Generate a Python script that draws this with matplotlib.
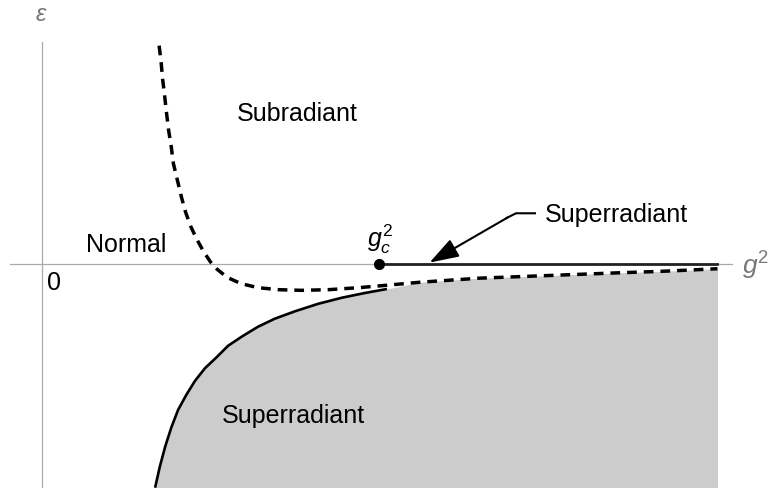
import numpy as np
import matplotlib.pyplot as plt

plt.rcParams['font.family'] = ['Liberation Sans', 'DejaVu Sans']
plt.rcParams['mathtext.fontset'] = 'custom'
plt.rcParams['mathtext.rm'] = 'Liberation Sans'
plt.rcParams['mathtext.it'] = 'Liberation Sans:italic'

# subradiant boundary (dashed)
g2_sub = np.array([1.74, 1.77, 1.79, 1.82, 1.85, 1.88, 1.92, 1.95, 2.01, 2.07,
                   2.13, 2.21, 2.30, 2.40, 2.50, 2.60, 2.75, 2.95, 3.20, 3.50,
                   3.85, 4.25, 4.70, 5.16, 5.60, 6.04, 6.48, 7.00, 7.52, 8.04,
                   8.55, 9.14, 9.59, 10.0])
eps_sub = np.array([3.23, 2.98, 2.75, 2.50, 2.23, 1.98, 1.73, 1.49, 1.24, 0.99,
                    0.77, 0.55, 0.36, 0.18, 0.03, -0.08, -0.20, -0.29, -0.35, -0.38,
                    -0.39, -0.38, -0.35, -0.31, -0.27, -0.24, -0.21, -0.19, -0.17, -0.15,
                    -0.13, -0.11, -0.09, -0.07])

# superradiant boundary (solid)
g2_sup = np.array([1.68, 1.75, 1.83, 1.92, 2.02, 2.14, 2.27, 2.42, 2.59, 2.76,
                   2.97, 3.20, 3.45, 3.75, 4.09, 4.44, 4.78, 5.11])
eps_sup = np.array([-3.31, -3.00, -2.70, -2.42, -2.16, -1.94, -1.73, -1.54, -1.38, -1.21,
                    -1.07, -0.93, -0.81, -0.70, -0.59, -0.50, -0.43, -0.37])

g2_c = 5.0
g2_max = 10.0

fig = plt.figure(figsize=(7.74, 4.88), dpi=100)
ax = fig.add_axes([0, 0, 1, 1])
ax.set_xlim(-0.614, 10.836)
ax.set_ylim(-3.314, 3.905)
ax.axis('off')

# axes
ax.plot([0, 0], [-3.314, 3.28], color='#aaaaaa', lw=0.9)
ax.plot([-0.46, 10.21], [0, 0], color='#aaaaaa', lw=0.9)

# shaded superradiant region: solid curve, then the dashed curve past its end
tail = g2_sub > g2_sup[-1] + 0.2
bx = np.concatenate([g2_sup, g2_sub[tail]])
by = np.concatenate([eps_sup, eps_sub[tail]])
ax.fill_between(bx, by, -3.314, color='#cccccc', lw=0)

ax.plot(g2_sup, eps_sup, color='black', lw=1.9, solid_capstyle='butt',
        solid_joinstyle='round')
ax.plot(g2_sub, eps_sub, color='black', lw=2.5, linestyle=(0, (2.8, 2.0)))

# superradiant line along eps = 0
ax.plot([g2_c, g2_max], [0, 0], color='#222222', lw=2.0)
ax.plot([g2_c], [0], 'o', color='black', ms=7)

# arrow to the horizontal branch
ax.plot([7.30, 7.02, 6.88], [0.75, 0.75, 0.68], color='black', lw=1.5)
ax.annotate('', xy=(5.74, 0.02), xytext=(6.90, 0.69),
            arrowprops=dict(arrowstyle='-|>,head_length=1.5,head_width=0.5',
                            color='black', lw=1.5, mutation_scale=12,
                            shrinkA=0, shrinkB=0))

fs = 18
ax.text(3.78, 2.11, 'Subradiant', fontsize=fs, ha='center', va='baseline')
ax.text(1.26, 0.18, 'Normal', fontsize=fs, ha='center', va='baseline')
ax.text(7.44, 0.62, 'Superradiant', fontsize=fs, ha='left', va='baseline')
ax.text(2.67, -2.35, 'Superradiant', fontsize=fs, ha='left', va='baseline')
ax.text(4.81, 0.25, '$g_c^2$', fontsize=fs, ha='left', va='baseline')
ax.text(0.08, -0.10, '0', fontsize=fs, ha='left', va='top')

ax.text(0.0, 3.68, r'$\epsilon$', fontsize=17, color='#777777', ha='center', va='center')
ax.text(10.36, -0.16, '$g^2$', fontsize=19, color='#777777', ha='left', va='baseline')

fig.savefig('out.png', dpi=100)
